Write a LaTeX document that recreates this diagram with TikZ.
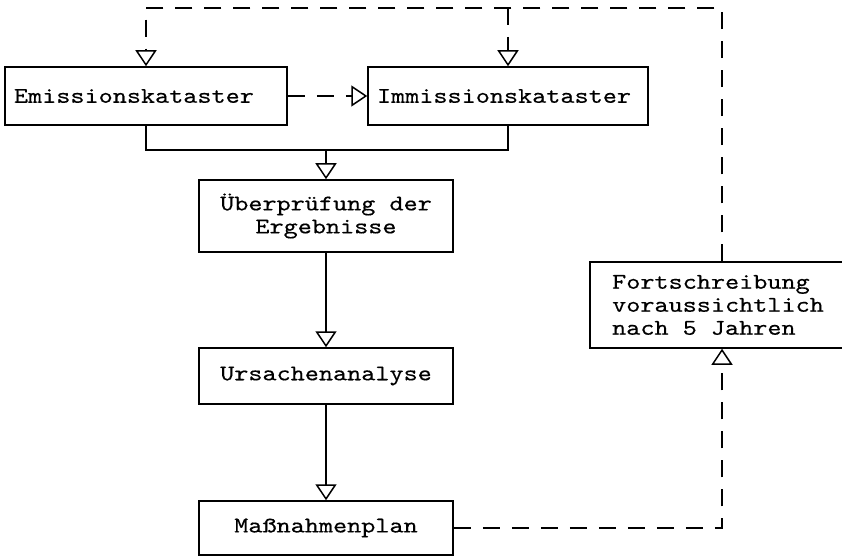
\documentclass[tikz,border=0pt]{standalone}
\usepackage{fontspec}
\newfontfamily\kastenfont{lmmono10-regular.otf}[FakeStretch=1.2, FakeBold=0.4]
\usetikzlibrary{positioning, arrows.meta}

\begin{document}
\begin{tikzpicture}[
                    % GLOBAL CFG
                    x=1pt, y=-1pt,
                    font=\kastenfont\fontsize{22.4}{23}\selectfont,
                    >={Triangle[open, length=16pt, width=21pt]},
                    % Styles
                    box/.style={% For the centred boxes
                            rectangle,
                            draw,
                            line width=1.5pt,
                            inner sep=0pt,
                            align=center,
                            minimum width=254pt,
                        },
                    leftbox/.style={% For the two boxes at the top
                            rectangle,
                            draw,
                            line width=1.5pt,
                            inner xsep=9pt,
                            inner ysep=0pt,
                            text width=264pt,
                            align=left,
                            minimum height=58pt,
                        },
                    ArrowS/.style={% Solid connectors
                            line width=1.5pt,
                        },
                    ArrowD/.style={% Dashed connectors
                            line width=1.5pt,
                            dash pattern=on 17pt off 12pt,
                        },
                ]

                \useasboundingbox (0,0) rectangle (842,556);

                % Draw the boxes
                \node [leftbox] (emi) at (146,96) {Emissionskataster};
                \node [leftbox, text width=262pt] (imm) at (508,96) {Immissionskataster};
                \node [box, minimum height=72pt] (ueb) at (326,216) {Überprüfung der\\Ergebnisse};
                \node [box, minimum height=56pt] (urs) at (326,376) {Ursachenanalyse};
                \node [box, minimum height=54pt] (mas) at (326,528) {Maßnahmenplan};
                \node [box, align=left, minimum width=256pt, minimum height=86pt] (fort) at (718,305) {Fortschreibung\\voraussichtlich\\nach 5 Jahren};

                % Corner of the loop and the joint under the top boxes
                \coordinate (loop) at (722,8);
                \path (ueb.north) ++(0,-29) coordinate (join);

                % Loop back to the top
                \draw [ArrowD, ->] (loop |- fort.north) -- (loop) -| (emi.north);
                \draw [ArrowD, ->] (loop -| imm.north) -- (imm.north);
                \draw [ArrowD, ->] (emi.east) -- (imm.west);

                % Main chain
                \draw [ArrowS] (emi.south) |- (join) -| (imm.south);
                \draw [ArrowS, ->] (join) -- (ueb.north);
                \draw [ArrowS, ->] (ueb) -- (urs);
                \draw [ArrowS, ->] (urs) -- (mas);
                \draw [ArrowD, ->] (mas.east) -| (loop |- fort.south);

            \end{tikzpicture}
\end{document}
